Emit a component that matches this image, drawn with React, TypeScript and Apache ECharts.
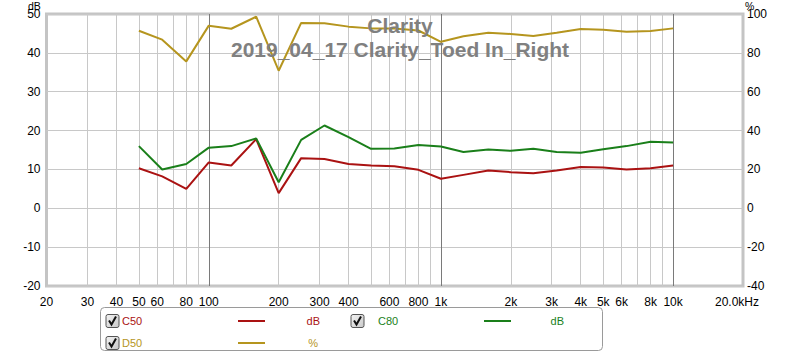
import React, { useEffect, useRef } from "react";
import * as echarts from "echarts";

// Third-octave band centre frequencies (Hz)
const freqs = [50, 63, 80, 100, 125, 160, 200, 250, 315, 400, 500, 630, 800, 1000, 1250, 1600, 2000, 2500, 3150, 4000, 5000, 6300, 8000, 10000];
// C50 (dB)
const c50 = [10.3, 8.2, 5.0, 11.8, 11.0, 17.8, 3.9, 12.9, 12.7, 11.4, 11.0, 10.8, 9.9, 7.6, 8.6, 9.7, 9.3, 9.0, 9.7, 10.6, 10.5, 10.0, 10.3, 11.0];
// C80 (dB)
const c80 = [16.0, 10.0, 11.4, 15.6, 16.0, 18.0, 6.7, 17.6, 21.3, 18.3, 15.3, 15.4, 16.3, 15.9, 14.5, 15.1, 14.8, 15.3, 14.5, 14.3, 15.2, 16.0, 17.1, 16.9];
// D50 (%)
const d50 = [91.4, 86.8, 75.6, 94.0, 92.4, 98.6, 70.8, 95.4, 95.2, 93.5, 92.6, 92.5, 91.5, 85.7, 88.5, 90.4, 89.7, 88.7, 90.4, 92.3, 91.9, 90.9, 91.3, 92.6];

// Frequency grid lines and tick labels
const gridFreqs = [30, 40, 50, 60, 70, 80, 90, 100, 200, 300, 400, 500, 600, 700, 800, 900, 1000, 2000, 3000, 4000, 5000, 6000, 7000, 8000, 9000, 10000];
const labelFreqs = [20, 30, 40, 50, 60, 80, 100, 200, 300, 400, 600, 800, 1000, 2000, 3000, 4000, 5000, 6000, 8000, 10000, 20000];

const titleLines = ["Clarity", "2019_04_17 Clarity_Toed In_Right"];

const FONT = "'Liberation Sans', Arial, sans-serif";
const RED = "#aa1212";
const GREEN = "#1a7f1a";
const GOLD = "#b5951e";

function fmtFreq(v: number): string {
  if (v >= 20000) return "{r|20.0kHz}";
  if (v >= 1000) return Math.round(v / 1000) + "k";
  return String(Math.round(v));
}

function checkbox(x: number, yc: number) {
  return [
    {
      type: "rect",
      shape: { x: x, y: yc - 6.5, width: 13, height: 13, r: 2 },
      style: {
        fill: new echarts.graphic.LinearGradient(0, 0, 1, 1, [
          { offset: 0, color: "#f4f4f4" },
          { offset: 1, color: "#c8c8c8" },
        ]),
        stroke: "#555",
        lineWidth: 1,
      },
      silent: true,
    },
    {
      type: "polyline",
      shape: { points: [[x + 3, yc - 0.5], [x + 5.5, yc + 3.5], [x + 10, yc - 4.5]] },
      style: { stroke: "#111", lineWidth: 2, fill: null },
      silent: true,
    },
  ];
}

function legendText(text: string, x: number, yc: number, color: string, align: string) {
  return {
    type: "text",
    x,
    y: yc,
    style: { text, fill: color, font: `11px ${FONT}`, textAlign: align, textVerticalAlign: "middle" },
    silent: true,
  };
}

function legendLine(x1: number, x2: number, yc: number, color: string) {
  return {
    type: "line",
    shape: { x1, y1: yc, x2, y2: yc },
    style: { stroke: color, lineWidth: 2 },
    silent: true,
  };
}

export default function App() {
  const ref = useRef<HTMLDivElement>(null);

  useEffect(() => {
    if (!ref.current) return;
    const chart = echarts.init(ref.current, null, { renderer: "svg" });

    const gridColors = gridFreqs.map((f) => (f === 100 || f === 1000 || f === 10000 ? "#7a7a7a" : "#c8c8c8"));
    const r1 = 321;
    const r2 = 343;
    const titleStyle = { fontSize: 21, fontWeight: "bold", color: "#808080", lineHeight: 24, fontFamily: FONT };

    chart.setOption({
      animation: false,
      backgroundColor: "#ffffff",
      title: [
        { text: titleLines[0], left: "center", top: 13, padding: 0, textStyle: titleStyle, z: 100 },
        { text: titleLines[1], left: "center", top: 37, padding: 0, textStyle: titleStyle, z: 100 },
      ],
      grid: {
        left: 46.5,
        right: 57,
        top: 14,
        bottom: 72,
        show: true,
        borderColor: "#c4c4c4",
        borderWidth: 3,
        backgroundColor: "transparent",
      },
      xAxis: {
        type: "log",
        logBase: 10,
        min: 20,
        max: 20000,
        axisLine: { show: false },
        axisTick: { show: false, customValues: gridFreqs },
        splitLine: { show: true, customValues: gridFreqs, lineStyle: { color: gridColors, width: 1 } },
        axisLabel: {
          customValues: labelFreqs,
          formatter: (v: number) => fmtFreq(v),
          color: "#000",
          fontSize: 12,
          fontFamily: FONT,
          margin: 10,
          rich: { r: { fontSize: 12, fontFamily: FONT, color: "#000", padding: [0, 12, 0, 0] } },
        },
      },
      yAxis: [
        {
          type: "value",
          min: -20,
          max: 50,
          interval: 10,
          axisLine: { show: false },
          axisTick: { show: false },
          splitLine: { show: true, lineStyle: { color: "#c8c8c8", width: 1 } },
          axisLabel: { color: "#000", fontSize: 12, fontFamily: FONT, margin: 6 },
        },
        {
          type: "value",
          position: "right",
          min: -40,
          max: 100,
          interval: 20,
          axisLine: { show: false },
          axisTick: { show: false },
          splitLine: { show: false },
          axisLabel: { color: "#000", fontSize: 12, fontFamily: FONT, margin: 4 },
        },
      ],
      series: [
        {
          name: "C50",
          type: "line",
          data: freqs.map((f, i) => [f, c50[i]]),
          yAxisIndex: 0,
          showSymbol: false,
          symbol: "none",
          lineStyle: { color: RED, width: 2 },
          itemStyle: { color: RED },
          z: 3,
        },
        {
          name: "C80",
          type: "line",
          data: freqs.map((f, i) => [f, c80[i]]),
          yAxisIndex: 0,
          showSymbol: false,
          symbol: "none",
          lineStyle: { color: GREEN, width: 2 },
          itemStyle: { color: GREEN },
          z: 3,
        },
        {
          name: "D50",
          type: "line",
          data: freqs.map((f, i) => [f, d50[i]]),
          yAxisIndex: 1,
          showSymbol: false,
          symbol: "none",
          lineStyle: { color: GOLD, width: 2 },
          itemStyle: { color: GOLD },
          z: 3,
        },
      ],
      graphic: [
        {
          type: "text",
          x: 28,
          y: 0,
          style: { text: "dB", fill: "#000", font: `10.5px ${FONT}`, textVerticalAlign: "top" },
          silent: true,
        },
        {
          type: "text",
          x: 745,
          y: 0,
          style: { text: "%", fill: "#000", font: `10.5px ${FONT}`, textVerticalAlign: "top" },
          silent: true,
        },
        {
          type: "rect",
          shape: { x: 100.5, y: 307.5, width: 502, height: 43, r: 4 },
          style: { fill: "#fff", stroke: "#9a9a9a", lineWidth: 1 },
          silent: true,
        },
        ...checkbox(106, r1),
        legendText("C50", 122, r1, RED, "left"),
        legendLine(238, 265, r1, RED),
        legendText("dB", 320, r1, RED, "right"),
        ...checkbox(351, r1),
        legendText("C80", 378, r1, GREEN, "left"),
        legendLine(484, 511, r1, GREEN),
        legendText("dB", 564, r1, GREEN, "right"),
        ...checkbox(106, r2),
        legendText("D50", 122, r2, GOLD, "left"),
        legendLine(238, 265, r2, GOLD),
        legendText("%", 318, r2, GOLD, "right"),
      ],
    });

    return () => chart.dispose();
  }, []);

  return <div ref={ref} style={{ position: "fixed", left: 0, top: 0, width: 800, height: 358 }} />;
}
